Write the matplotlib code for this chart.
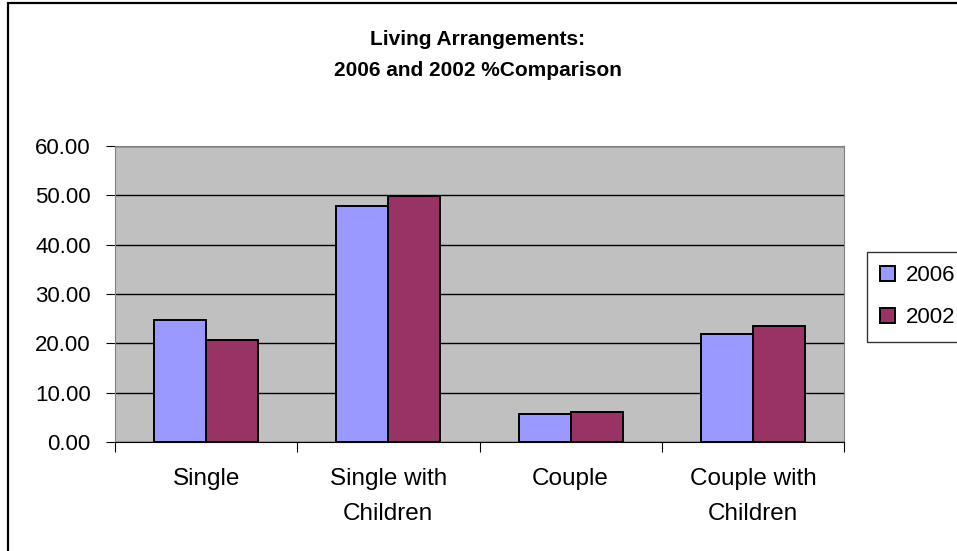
import numpy as np
import matplotlib.pyplot as plt
from matplotlib.patches import Rectangle

# values
categories = ['Single', 'Single with\nChildren', 'Couple', 'Couple with\nChildren']
pct_2006 = [24.7, 47.9, 5.7, 21.9]
pct_2002 = [20.6, 49.9, 6.0, 23.5]
series_names = ['2006', '2002']
y_ticks = [0, 10, 20, 30, 40, 50, 60]

plt.rcParams['font.family'] = ['Liberation Sans', 'DejaVu Sans']

W, H = 957, 551
fig = plt.figure(figsize=(W / 100, H / 100), dpi=100)

# chart-area border (runs off the right and bottom of the image)
fig.patches.append(Rectangle((8 / W, -0.1), 1.2, 1 - 3 / H + 0.1,
                             transform=fig.transFigure, fill=False,
                             edgecolor='black', linewidth=1.6))

ax = fig.add_axes([115 / W, 1 - 442 / H, (844 - 115) / W, (442 - 146) / H])
ax.set_facecolor('#c0c0c0')

x = np.arange(len(categories))
w = 0.285
ax.bar(x - w / 2, pct_2006, w, color='#9999ff', edgecolor='black', linewidth=1.4,
       label=series_names[0], zorder=3)
ax.bar(x + w / 2, pct_2002, w, color='#993366', edgecolor='black', linewidth=1.4,
       label=series_names[1], zorder=3)

ax.set_xlim(-0.5, len(categories) - 0.5)
ax.set_ylim(0, 60)
ax.set_yticks(y_ticks)
ax.set_yticklabels([f'{v:.2f}' for v in y_ticks], fontsize=16)
ax.yaxis.grid(True, color='black', linewidth=1)
ax.set_axisbelow(True)

# category labels between tick marks at group boundaries
ax.set_xticks(np.arange(-0.5, len(categories), 1.0))
ax.set_xticklabels([])
ax.set_xticks(x, minor=True)
ax.set_xticklabels(categories, minor=True, fontsize=17.5, linespacing=1.72)
ax.tick_params(axis='x', which='major', length=7, direction='out', color='black')
ax.tick_params(axis='x', which='minor', length=0, pad=19)
ax.tick_params(axis='y', length=6.5, direction='out', pad=11)

for side in ['top', 'right', 'left']:
    ax.spines[side].set_color('#808080')
ax.spines['bottom'].set_color('black')

fig.text(478 / W, 1 - 55 / H, 'Living Arrangements:\n2006 and 2002 %Comparison',
         ha='center', va='center', fontsize=15, fontweight='bold', linespacing=1.85)

leg = fig.legend(loc='upper left', bbox_to_anchor=(867 / W, 1 - 252 / H),
                 bbox_transform=fig.transFigure, borderaxespad=0, fontsize=16,
                 frameon=True, fancybox=False, handlelength=0.65, handleheight=0.65,
                 handletextpad=0.5, borderpad=0.6, labelspacing=0.95)
leg.get_frame().set_edgecolor('black')
leg.get_frame().set_linewidth(1)

fig.savefig('out.png', dpi=100)
